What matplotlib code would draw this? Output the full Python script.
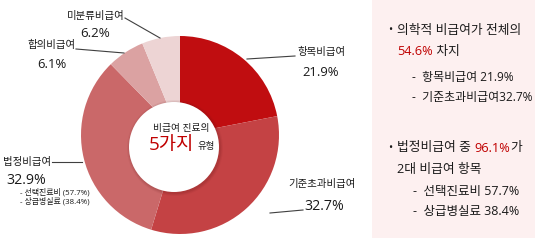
import matplotlib
matplotlib.use("Agg")
import matplotlib.pyplot as plt
from matplotlib.patches import Circle, Rectangle

plt.rcParams['font.family'] = ['Open Sans', 'Noto Sans CJK KR', 'DejaVu Sans']

# data
labels = ['항목비급여', '기준초과비급여', '법정비급여', '합의비급여', '미분류비급여']
shares = [21.9, 32.7, 32.9, 6.1, 6.2]
colors = ['#C00D10', '#C44244', '#CA6869', '#DBA2A2', '#EDD4D4']
sub_labels = ['선택진료비', '상급병실료']
sub_shares = [57.7, 38.4]
medical_share = 54.6
legal_top2 = 96.1

W, H = 535, 247
RED = '#C00000'
TXT = '#1a1a1a'


def py(y):
  # pixel row (from top) -> data y
  return H - y


fig = plt.figure(figsize=(W / 100, H / 100), dpi=100)
ax = fig.add_axes([0, 0, 1, 1])

# right info panel
ax.add_patch(Rectangle((372, py(238)), W - 372, 238, facecolor='#FDF0F0', edgecolor='none', zorder=0))

# donut
cx, cy, r = 180, 135, 99
ax.pie(shares, colors=colors, startangle=90, counterclock=False,
       center=(cx, py(cy)), radius=r, frame=True,
       wedgeprops=dict(linewidth=0))
ax.set_xlim(0, W)
ax.set_ylim(0, H)
ax.set_aspect('equal')
ax.axis('off')

# white hole with soft shadow
hx, hy, hr = 174, 147, 45
for k, a in enumerate([0.05, 0.07, 0.09]):
  ax.add_patch(Circle((hx + 1, py(hy + 1)), hr + 3 - k, facecolor='#5a1010', alpha=a, edgecolor='none', zorder=5))
ax.add_patch(Circle((hx, py(hy)), hr, facecolor='white', edgecolor='none', zorder=6))

ax.text(181, py(129), '비급여 진료의', fontsize=7.0, color=TXT, ha='center', va='center', zorder=7)
ax.text(149, py(145), '5가지', fontsize=13.5, color=RED, ha='left', va='center', zorder=7)
ax.text(197, py(146), '유형', fontsize=6.8, color=TXT, ha='left', va='center', zorder=7)

# leader lines
lines = [
  [(247, 59), (295, 56)],
  [(270, 213), (303, 210)],
  [(52, 162), (82, 162)],
  [(76, 49), (124, 53)],
  [(125, 18), (160, 38)],
]
for pts in lines:
  ax.plot([p[0] for p in pts], [py(p[1]) for p in pts], color='#404040', lw=0.8, zorder=4)

# labels around the donut
lab_pos = [(321, 53), (322, 185), (27, 162), (52, 46), (96, 17)]
val_pos = [(321, 72), (324, 207), (26, 181), (52, 64), (95, 34)]
val_size = [9.4, 10.2, 10.2, 9.4, 9.6]
for i in range(len(labels)):
  ax.text(lab_pos[i][0], py(lab_pos[i][1]), labels[i], fontsize=7.5, color=TXT, ha='center', va='center')
  ax.text(val_pos[i][0], py(val_pos[i][1]), '%.1f%%' % shares[i], fontsize=val_size[i], color=TXT, ha='center', va='center')

for i in range(len(sub_labels)):
  ax.text(20, py(192 + 9 * i), '- %s (%.1f%%)' % (sub_labels[i], sub_shares[i]), fontsize=5.7, color=TXT, ha='left', va='center')

# right panel text
renderer = fig.canvas.get_renderer()


def run(x, y, parts, size=9.2):
  # write text pieces one after another on a line
  for s, c in parts:
    t = ax.text(x, py(y), s, fontsize=size, color=c, ha='left', va='center')
    bb = t.get_window_extent(renderer)
    x = ax.transData.inverted().transform((bb.x1, bb.y0))[0]


ax.text(388, py(31), '•', fontsize=8, color=TXT, ha='left', va='center')
run(397, 31, [('의학적 비급여가 전체의', TXT)])
run(397, 52, [('%.1f%%' % medical_share, RED), (' 차지', TXT)])
run(412, 77, [('-  항목비급여 %.1f%%' % shares[0], TXT)], size=8.6)
run(412, 97, [('-  기준초과비급여%.1f%%' % shares[1], TXT)], size=8.6)

ax.text(388, py(148), '•', fontsize=8, color=TXT, ha='left', va='center')
run(397, 148, [('법정비급여 중 ', TXT), ('%.1f%%' % legal_top2, RED), ('가', TXT)])
run(397, 169, [('2대 비급여 항목', TXT)])
run(413, 191, [('-  %s %.1f%%' % (sub_labels[0], sub_shares[0]), TXT)], size=9.0)
run(413, 211, [('-  %s %.1f%%' % (sub_labels[1], sub_shares[1]), TXT)], size=9.0)

fig.savefig('out.png', dpi=100)
